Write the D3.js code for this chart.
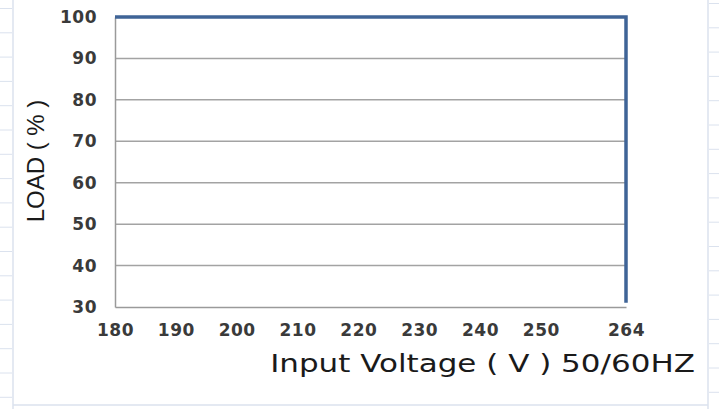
<!DOCTYPE html>
<html>
<head>
<meta charset="utf-8">
<script src="https://cdn.jsdelivr.net/npm/d3@7"></script>
<style>
html,body{margin:0;padding:0;background:#fff;}
svg{display:block;}
</style>
</head>
<body>
<svg id="chart" width="719" height="409"></svg>
<script>
// Data
const voltage = [180, 264, 264];
const load = [100, 100, 31];
const xTicks = [180, 190, 200, 210, 220, 230, 240, 250, 264];
const yTicks = [30, 40, 50, 60, 70, 80, 90, 100];
const xTitle = "Input Voltage ( V ) 50/60HZ";
const yTitle = "LOAD ( % )";

const svg = d3.select("#chart");
const W = 719, H = 409;
const m = {left: 115, right: 93, top: 17, bottom: 102};

// faint spreadsheet cell borders behind the chart
const bg = svg.append("g").attr("stroke", "#dbe2ee").attr("stroke-width", 1.5);
bg.append("line").attr("x1", 13).attr("x2", 13).attr("y1", 0).attr("y2", H);
bg.append("line").attr("x1", 708).attr("x2", 708).attr("y1", 0).attr("y2", H);
bg.append("line").attr("x1", 13).attr("x2", 708).attr("y1", 405).attr("y2", 405);
for (let yy = 8.5; yy < H; yy += 24.3) {
  bg.append("line").attr("x1", 0).attr("x2", 12).attr("y1", yy).attr("y2", yy).attr("stroke-width", 1);
  bg.append("line").attr("x1", 709).attr("x2", 719).attr("y1", yy - 5).attr("y2", yy - 5).attr("stroke-width", 1);
}

const x = d3.scaleLinear().domain([180, 264]).range([m.left, W - m.right]);
const y = d3.scaleLinear().domain([30, 100]).range([H - m.bottom, m.top]);

// gridlines
svg.append("g")
  .selectAll("line").data(yTicks.filter(d => d !== 30)).join("line")
  .attr("x1", x(180)).attr("x2", x(264))
  .attr("y1", d => y(d)).attr("y2", d => y(d))
  .attr("stroke", "#a3a3a3").attr("stroke-width", 1.5);

// axes
const yAxis = svg.append("g")
  .attr("transform", `translate(${x(180)},0)`)
  .call(d3.axisLeft(y).tickValues(yTicks).tickSize(0).tickPadding(18).tickFormat(d3.format("d")));
const xAxis = svg.append("g")
  .attr("transform", `translate(0,${y(30)})`)
  .call(d3.axisBottom(x).tickValues(xTicks).tickSize(0).tickPadding(17).tickFormat(d3.format("d")));
[xAxis, yAxis].forEach(a => {
  a.select(".domain").attr("stroke", "#9a9a9a").attr("stroke-width", 1.5);
  a.selectAll("text")
    .attr("fill", "#3a3a3a")
    .style("font-family", "DejaVu Sans, Verdana, sans-serif")
    .style("font-size", "17px")
    .style("font-weight", "bold")
    .style("letter-spacing", "0.5px");
});

// series line
const line = d3.line().x((d, i) => x(voltage[i])).y(d => y(d));
svg.append("path")
  .datum(load)
  .attr("d", line)
  .attr("fill", "none")
  .attr("stroke", "#3f6497")
  .attr("stroke-width", 3.5)
  .attr("stroke-linejoin", "miter");

// titles
const xt = svg.append("text")
  .attr("text-anchor", "middle")
  .attr("fill", "#1a1a1a")
  .style("font-family", "DejaVu Sans, Verdana, sans-serif")
  .style("font-size", "25px")
  .text(xTitle);
const xw = xt.node().getComputedTextLength();
xt.attr("transform", `translate(482.5,372) scale(${425 / xw},1)`);

svg.append("text")
  .attr("transform", "translate(44,161) rotate(-90)")
  .attr("text-anchor", "middle")
  .attr("fill", "#1a1a1a")
  .style("font-family", "Liberation Sans, Arial, sans-serif")
  .style("font-size", "24px")
  .text(yTitle);
</script>
</body>
</html>
